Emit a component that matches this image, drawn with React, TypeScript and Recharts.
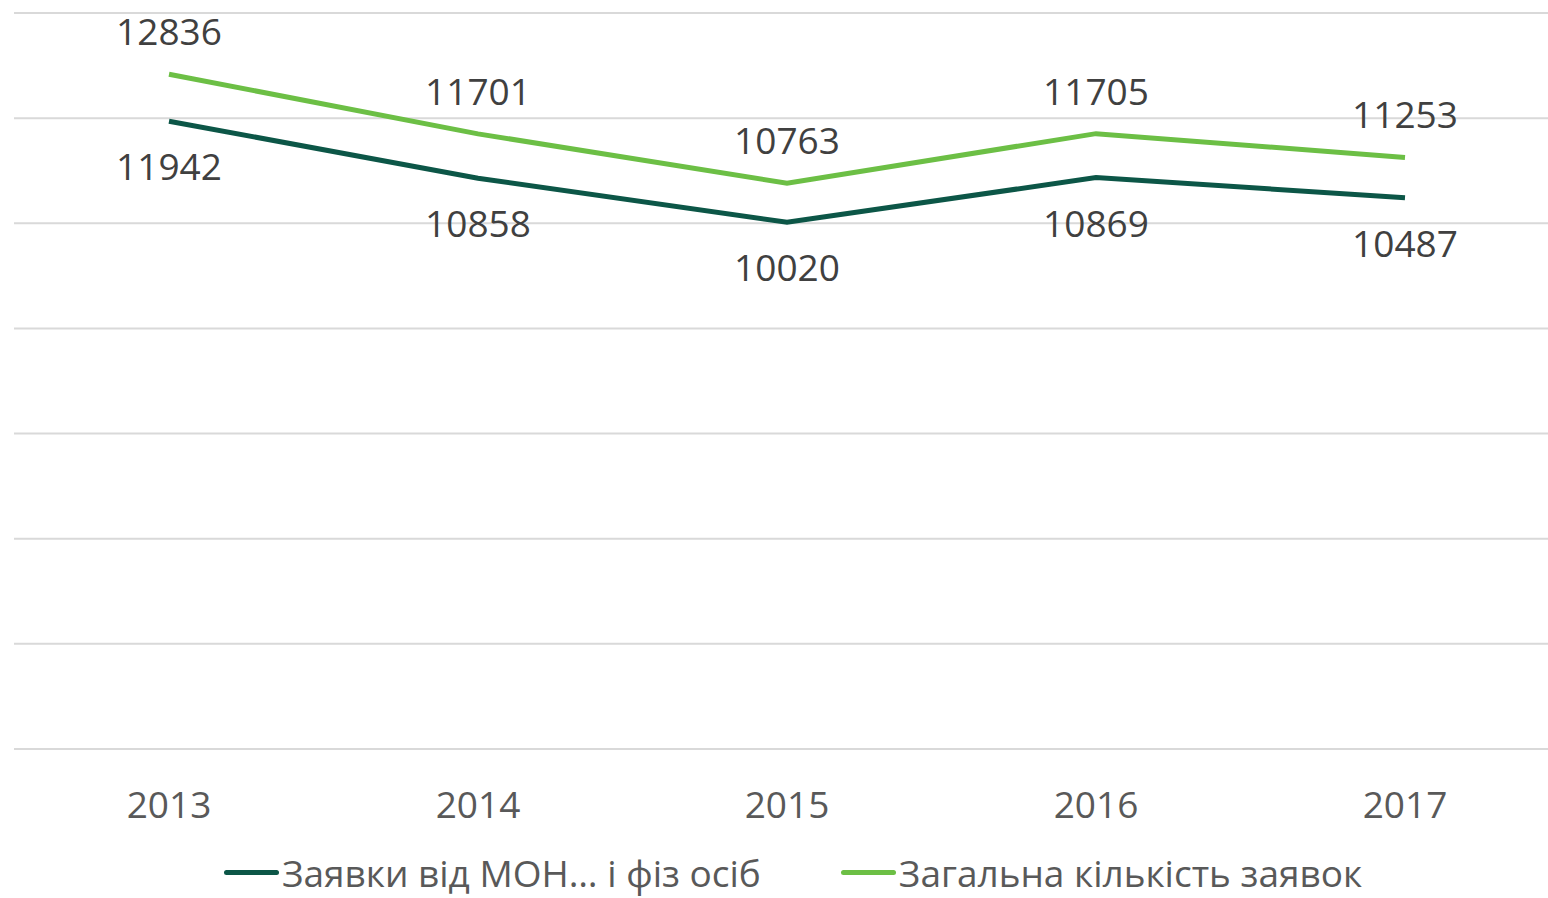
import React from 'react';
import { LineChart, Line, XAxis, YAxis, CartesianGrid, Legend, LabelList } from 'recharts';

const years = ['2013', '2014', '2015', '2016', '2017'];
const monApplications = [11942, 10858, 10020, 10869, 10487];
const totalApplications = [12836, 11701, 10763, 11705, 11253];
const yTicks = [0, 2000, 4000, 6000, 8000, 10000, 12000, 14000];

const DARK = '#0c5647';
const LIGHT = '#6cbf45';
const FONT = '"Open Sans", "Noto Sans", sans-serif';

const data = years.map((year, i) => ({
  year,
  mon: monApplications[i],
  total: totalApplications[i],
}));

const legendItems = [
  { label: 'Заявки від МОН… і фіз осіб', color: DARK },
  { label: 'Загальна кількість заявок', color: LIGHT },
];

function TopLabel(props: any) {
  const { x, y, value } = props;
  return (
    <text x={x} y={y - 29} textAnchor="middle" fill="#404040" fontSize={37} fontFamily={FONT}>
      {value}
    </text>
  );
}

function BottomLabel(props: any) {
  const { x, y, value } = props;
  return (
    <text x={x} y={y + 59} textAnchor="middle" fill="#404040" fontSize={37} fontFamily={FONT}>
      {value}
    </text>
  );
}

function YearTick(props: any) {
  const { x, y, payload } = props;
  return (
    <text x={x} y={y + 69} textAnchor="middle" fill="#595959" fontSize={37} fontFamily={FONT}>
      {payload.value}
    </text>
  );
}

function LegendContent() {
  return (
    <div
      style={{
        height: 61,
        boxSizing: 'border-box',
        paddingTop: 10,
        paddingLeft: 12,
        display: 'flex',
        justifyContent: 'center',
        alignItems: 'center',
        gap: 80,
        fontFamily: FONT,
        fontSize: 37,
        color: '#595959',
      }}
    >
      {legendItems.map((item) => (
        <div key={item.label} style={{ display: 'flex', alignItems: 'center', whiteSpace: 'nowrap' }}>
          <span
            style={{
              display: 'inline-block',
              width: 55,
              height: 5,
              borderRadius: 3,
              background: item.color,
              marginRight: 3,
            }}
          />
          <span style={{ display: 'inline-block', lineHeight: '40px' }}>{item.label}</span>
        </div>
      ))}
    </div>
  );
}

export default function App() {
  return (
    <div style={{ position: 'fixed', left: 0, top: 0, width: 1548, height: 898, overflow: 'hidden', background: '#fff' }}>
      <LineChart width={1560} height={898} data={data} margin={{ top: 13, right: 0, left: 14, bottom: 0 }}>
        <CartesianGrid vertical={false} stroke="#d9d9d9" strokeWidth={2} />
        <XAxis
          dataKey="year"
          axisLine={false}
          tickLine={false}
          tickSize={0}
          tickMargin={0}
          height={88}
          interval={0}
          padding={{ left: 155, right: 155 }}
          tick={<YearTick />}
        />
        <YAxis hide domain={[0, 14000]} ticks={yTicks} />
        <Legend verticalAlign="bottom" content={<LegendContent />} />
        <Line
          dataKey="mon"
          stroke={DARK}
          strokeWidth={5}
          dot={false}
          isAnimationActive={false}
        >
          <LabelList dataKey="mon" content={<BottomLabel />} />
        </Line>
        <Line
          dataKey="total"
          stroke={LIGHT}
          strokeWidth={5}
          dot={false}
          isAnimationActive={false}
        >
          <LabelList dataKey="total" content={<TopLabel />} />
        </Line>
      </LineChart>
    </div>
  );
}
